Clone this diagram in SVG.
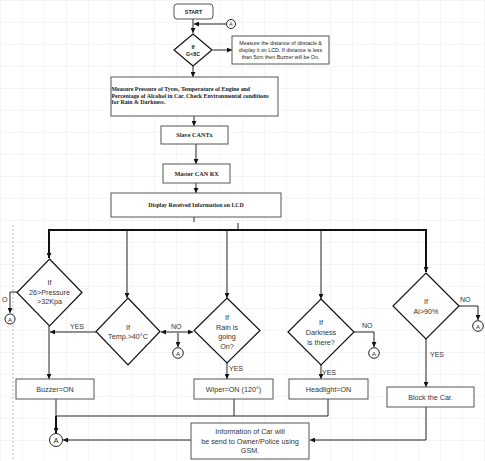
<svg xmlns="http://www.w3.org/2000/svg" width="485" height="461" viewBox="0 0 485 461">
<style>
.box{fill:#fff;stroke:#555;stroke-width:1}
.dia{fill:#fff;stroke:#111;stroke-width:1.2}
.ln{fill:none;stroke:#222;stroke-width:1}
.thk{fill:none;stroke:#111;stroke-width:2}
.circ{fill:#fff;stroke:#222;stroke-width:1}
.t{font-family:"Liberation Sans",Arial,sans-serif;font-size:7.2px;fill:#333;text-anchor:middle}
.ts{font-family:"Liberation Sans",Arial,sans-serif;font-size:5.3px;fill:#222;text-anchor:middle}
.tr{font-family:"Liberation Serif","Times New Roman",serif;font-weight:bold;fill:#222}
.lbl{font-family:"Liberation Sans",Arial,sans-serif;font-size:7px;fill:#333}
.ca{font-family:"Liberation Sans",Arial,sans-serif;fill:#222;text-anchor:middle}
</style>
<defs>
<marker id="ar" viewBox="0 0 10 10" refX="10" refY="5" markerWidth="5" markerHeight="5" markerUnits="userSpaceOnUse" orient="auto-start-reverse"><path d="M0,0 L10,5 L0,10 z" fill="#111"/></marker>
<pattern id="grid" width="22" height="22" patternUnits="userSpaceOnUse"><path d="M22 0 H0 V22" fill="none" stroke="#ececec" stroke-width="1"/></pattern>
</defs>
<rect width="485" height="461" fill="#fff"/>
<rect width="485" height="461" fill="url(#grid)"/>
<line x1="13" y1="225" x2="13" y2="461" stroke="#bbb" stroke-width="1" stroke-dasharray="2,2"/>

<g id="connectors">
<line class="ln" x1="193" y1="19" x2="193" y2="33" marker-end="url(#ar)"/>
<line class="ln" x1="226" y1="24" x2="194" y2="24" marker-end="url(#ar)"/>
<line class="ln" x1="213" y1="50" x2="232" y2="50" marker-end="url(#ar)"/>
<line class="ln" x1="193" y1="66" x2="193" y2="77" marker-end="url(#ar)"/>
<line class="ln" x1="194" y1="116" x2="194" y2="126" marker-end="url(#ar)"/>
<line class="ln" x1="196" y1="144" x2="196" y2="164" marker-end="url(#ar)"/>
<line class="ln" x1="196" y1="183" x2="196" y2="193" marker-end="url(#ar)"/>
<line class="ln" x1="194" y1="217" x2="194" y2="222" stroke-width="1.5"/>
<line class="ln" x1="238" y1="223" x2="238" y2="230" stroke-width="1.5"/>
<line class="thk" x1="48" y1="230" x2="427" y2="230"/>
<line class="thk" x1="49" y1="230" x2="49" y2="258" marker-end="url(#ar)"/>
<line class="thk" x1="426" y1="230" x2="426" y2="272" marker-end="url(#ar)"/>
<line class="ln" x1="127" y1="231" x2="127" y2="298" marker-end="url(#ar)"/>
<line class="ln" x1="227" y1="231" x2="227" y2="298" marker-end="url(#ar)"/>
<line class="ln" x1="321" y1="231" x2="321" y2="299" stroke-width="1.3" marker-end="url(#ar)"/>
<path class="ln" d="M17,292 H10 V313" marker-end="url(#ar)"/>
<line class="ln" x1="96" y1="332" x2="50" y2="332" marker-end="url(#ar)"/>
<line class="ln" x1="49" y1="326" x2="49" y2="379" marker-end="url(#ar)"/>
<line class="ln" x1="161" y1="332" x2="193" y2="332" marker-start="url(#ar)" marker-end="url(#ar)"/>
<line class="ln" x1="178" y1="333" x2="178" y2="347" marker-end="url(#ar)"/>
<line class="ln" x1="227" y1="363" x2="227" y2="379" marker-end="url(#ar)"/>
<path class="ln" d="M353,332 H374 V347" marker-end="url(#ar)"/>
<line class="ln" x1="321" y1="365" x2="321" y2="379" marker-end="url(#ar)"/>
<path class="ln" d="M459,306 H478 V320" marker-end="url(#ar)"/>
<line class="ln" x1="426" y1="339" x2="426" y2="387" marker-end="url(#ar)"/>
<line class="ln" x1="56" y1="399" x2="56" y2="416"/>
<path class="ln" d="M328,399 V416 H56"/>
<line class="ln" x1="234" y1="399" x2="234" y2="416"/>
<line class="thk" x1="56" y1="416" x2="56" y2="433" marker-end="url(#ar)"/>
<path class="ln" d="M426,407 V440 H310" marker-end="url(#ar)"/>
<line class="ln" x1="191" y1="440" x2="63" y2="440" marker-end="url(#ar)"/>
<text class="lbl" x="2" y="302">O</text>
<text class="lbl" x="70" y="329">YES</text>
<text class="lbl" x="171" y="329">NO</text>
<text class="lbl" x="229" y="371">YES</text>
<text class="lbl" x="362" y="328">NO</text>
<text class="lbl" x="322" y="375">YES</text>
<text class="lbl" x="460" y="302">NO</text>
<text class="lbl" x="430" y="357">YES</text>
</g>

<g id="start"><rect class="box" x="174" y="4" width="39" height="15" rx="3" stroke="#333"/><text class="ts" x="193.5" y="13.5" font-weight="bold">START</text></g>
<g id="connA-top"><circle class="circ" cx="231" cy="24" r="4.5"/><text class="ca" x="231" y="26.2" style="font-size:5px">A</text></g>
<g id="dec-distance"><polygon class="dia" points="193,34 212,50 193,66 174,50"/><text class="ts" x="193" y="49" font-weight="bold">If</text><text class="ts" x="193" y="56" font-weight="bold">G&lt;8C</text></g>
<g id="note-distance"><rect class="box" x="232" y="36" width="97" height="28"/>
<text class="ts" x="280.5" y="45">Measure the distance of obstacle &amp;</text>
<text class="ts" x="280.5" y="52">display it on LCD. If distance is less</text>
<text class="ts" x="280.5" y="59">than 5cm then Buzzer will be On.</text></g>
<g id="measure"><rect class="box" x="111" y="77" width="167" height="39"/>
<text class="tr" x="111.5" y="91" style="font-size:5.9px">Measure Pressure of Tyres, Temperature of Engine and</text>
<text class="tr" x="111.5" y="97.5" style="font-size:5.9px">Percentage of Alcohol in Car. Check Environmental conditions</text>
<text class="tr" x="111.5" y="104" style="font-size:5.9px">for Rain &amp; Darkness.</text></g>
<g id="slave"><rect class="box" x="161" y="126" width="67" height="18"/><text class="tr" x="194.5" y="137" text-anchor="middle" style="font-size:6.2px">Slave CANTx</text></g>
<g id="master"><rect class="box" x="163" y="164" width="67" height="19"/><text class="tr" x="196.5" y="175.5" text-anchor="middle" style="font-size:6.2px">Master CAN RX</text></g>
<g id="display"><rect class="box" x="111" y="193" width="170" height="24"/><text class="tr" x="196" y="207" text-anchor="middle" style="font-size:5.8px">Display Received Information on LCD</text></g>

<g id="dec-pressure"><polygon class="dia" points="49.5,259 82,292.5 49.5,326 17,292.5"/>
<text class="t" x="49.5" y="285">If</text><text class="t" x="49.5" y="294.5">26&gt;Pressure</text><text class="t" x="49.5" y="304">&gt;32Kpa</text></g>
<g id="connA-1"><circle class="circ" cx="10" cy="319" r="5"/><text class="ca" x="10" y="321.5" style="font-size:6px">A</text></g>
<g id="dec-temp"><polygon class="dia" points="128,298 160,331.5 128,365 96,331.5"/>
<text class="t" x="128" y="330">If</text><text class="t" x="128" y="339">Temp.&gt;40°C</text></g>
<g id="connA-2"><circle class="circ" cx="178" cy="353" r="5.3"/><text class="ca" x="178" y="355.5" style="font-size:6px">A</text></g>
<g id="dec-rain"><polygon class="dia" points="227,298 260,330.5 227,363 194,330.5"/>
<text class="t" x="227" y="320">If</text><text class="t" x="227" y="329.5">Rain is</text><text class="t" x="227" y="339">going</text><text class="t" x="227" y="348.5">On?</text></g>
<g id="dec-dark"><polygon class="dia" points="321,299 354,332 321,365 288,332"/>
<text class="t" x="321" y="325">If</text><text class="t" x="321" y="335">Darkness</text><text class="t" x="321" y="345">is there?</text></g>
<g id="connA-3"><circle class="circ" cx="374" cy="353" r="5.3"/><text class="ca" x="374" y="355.5" style="font-size:6px">A</text></g>
<g id="dec-al"><polygon class="dia" points="426,273 459,306 426,339 393,306"/>
<text class="t" x="426" y="304">If</text><text class="t" x="426" y="313.5">Al&gt;90%</text></g>
<g id="connA-4"><circle class="circ" cx="478" cy="326" r="5.3"/><text class="ca" x="478" y="328.5" style="font-size:6px">A</text></g>

<g id="buzzer"><rect class="box" x="16" y="379" width="78" height="20"/><text class="t" x="55" y="391.5">Buzzer=ON</text></g>
<g id="wiper"><rect class="box" x="194" y="379" width="79" height="20"/><text class="t" x="233.5" y="391.5">Wiper=ON (120°)</text></g>
<g id="headlight"><rect class="box" x="289" y="379" width="79" height="20"/><text class="t" x="328.5" y="391.5">Headlight=ON</text></g>
<g id="block"><rect class="box" x="387" y="387" width="87" height="20"/><text class="t" x="430.5" y="399.5">Block the Car.</text></g>
<g id="info"><rect class="box" x="191" y="423" width="118" height="36"/>
<text class="t" x="250" y="434">Information of Car will</text>
<text class="t" x="250" y="443.5">be send to Owner/Police using</text>
<text class="t" x="250" y="453">GSM.</text></g>
<g id="connA-5"><circle class="circ" cx="56" cy="440" r="6.5"/><text class="ca" x="56" y="442.5" style="font-size:7px">A</text></g>
</svg>
